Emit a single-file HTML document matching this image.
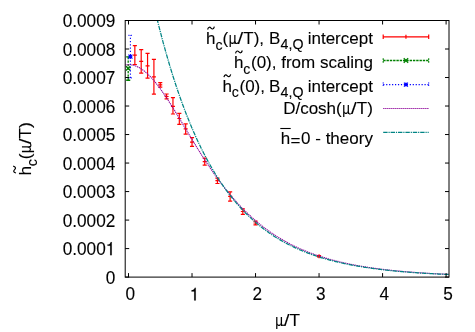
<!DOCTYPE html>
<html><head><meta charset="utf-8"><title>plot</title>
<style>html,body{margin:0;padding:0;background:#fff;}svg{display:block;will-change:transform;}</style></head>
<body>
<svg width="475" height="332" viewBox="0 0 475 332">
<rect width="475" height="332" fill="#fff"/>
<clipPath id="cp"><rect x="125.2" y="20.5" width="323.8" height="256.6"/></clipPath>
<g clip-path="url(#cp)" fill="none">
<path d="M134.85,45.7 V64.5 M132.80,45.7 H136.90 M132.80,64.5 H136.90 M132.85,55.2 H136.85 M134.85,53.2 V57.2" stroke="#ff0000" stroke-width="1.2"/>
<path d="M141.20,49.6 V73.2 M139.15,49.6 H143.25 M139.15,73.2 H143.25 M139.20,61.4 H143.20 M141.20,59.4 V63.4" stroke="#ff0000" stroke-width="1.2"/>
<path d="M147.56,53.3 V78.1 M145.51,53.3 H149.61 M145.51,78.1 H149.61 M145.56,65.8 H149.56 M147.56,63.8 V67.8" stroke="#ff0000" stroke-width="1.2"/>
<path d="M153.91,59.4 V94.05 M151.86,59.4 H155.96 M151.86,94.05 H155.96 M151.91,76.8 H155.91 M153.91,74.8 V78.8" stroke="#ff0000" stroke-width="1.2"/>
<path d="M160.26,82.7 V87.1 M158.21,82.7 H162.31 M158.21,87.1 H162.31 M158.26,84.9 H162.26 M160.26,82.9 V86.9" stroke="#ff0000" stroke-width="1.2"/>
<path d="M166.61,94.0 V98.9 M164.56,94.0 H168.66 M164.56,98.9 H168.66 M164.61,96.5 H168.61 M166.61,94.5 V98.5" stroke="#ff0000" stroke-width="1.2"/>
<path d="M172.96,97.7 V114.0 M170.91,97.7 H175.01 M170.91,114.0 H175.01 M170.96,106.4 H174.96 M172.96,104.4 V108.4" stroke="#ff0000" stroke-width="1.2"/>
<path d="M179.32,113.4 V124.4 M177.27,113.4 H181.37 M177.27,124.4 H181.37 M177.32,118.5 H181.32 M179.32,116.5 V120.5" stroke="#ff0000" stroke-width="1.2"/>
<path d="M185.67,123.85 V134.2 M183.62,123.85 H187.72 M183.62,134.2 H187.72 M183.67,128.9 H187.67 M185.67,126.9 V130.9" stroke="#ff0000" stroke-width="1.2"/>
<path d="M192.02,137.7 V146.3 M189.97,137.7 H194.07 M189.97,146.3 H194.07 M190.02,142.1 H194.02 M192.02,140.1 V144.1" stroke="#ff0000" stroke-width="1.2"/>
<path d="M204.72,158.1 V165.2 M202.67,158.1 H206.77 M202.67,165.2 H206.77 M202.72,161.7 H206.72 M204.72,159.7 V163.7" stroke="#ff0000" stroke-width="1.2"/>
<path d="M217.43,178.1 V183.5 M215.38,178.1 H219.48 M215.38,183.5 H219.48 M215.43,180.7 H219.43 M217.43,178.7 V182.7" stroke="#ff0000" stroke-width="1.2"/>
<path d="M230.13,191.8 V201.1 M228.08,191.8 H232.18 M228.08,201.1 H232.18 M228.13,196.3 H232.13 M230.13,194.3 V198.3" stroke="#ff0000" stroke-width="1.2"/>
<path d="M242.84,208.8 V214.4 M240.79,208.8 H244.89 M240.79,214.4 H244.89 M240.84,211.5 H244.84 M242.84,209.5 V213.5" stroke="#ff0000" stroke-width="1.2"/>
<path d="M255.54,221.1 V224.8 M253.49,221.1 H257.59 M253.49,224.8 H257.59 M253.54,223.0 H257.54 M255.54,221.0 V225.0" stroke="#ff0000" stroke-width="1.2"/>
<path d="M319.06,255.6 V257.0 M317.01,255.6 H321.11 M317.01,257.0 H321.11 M317.06,256.3 H321.06 M319.06,254.3 V258.3" stroke="#ff0000" stroke-width="1.2"/>
<path d="M128.2,56.9 V80.2" stroke="#008000" stroke-width="1.3" stroke-dasharray="2.4,1.1"/>
<path d="M126.14999999999999,56.9 H130.25 M126.14999999999999,80.2 H130.25 M125.99999999999999,66.2 L130.39999999999998,70.6 M125.99999999999999,70.6 L130.39999999999998,66.2" stroke="#008000" stroke-width="1.4"/>
<path d="M130.4,35.3 V77.9" stroke="#0000ff" stroke-width="1.1" stroke-dasharray="1.25,2" stroke-dashoffset="0.8"/>
<path d="M128.35,35.3 H132.45000000000002 M128.35,77.9 H132.45000000000002" stroke="#0000ff" stroke-width="1" stroke-dasharray="1.2,1.2"/>
<path d="M128.4,54.7 L132.4,58.7 M128.4,58.7 L132.4,54.7 M128.4,56.7 H132.4 M130.4,54.7 V58.7" stroke="#0000ff" stroke-width="1.1"/>
<path d="M125.32,64.96 L126.13,64.84 L126.94,64.76 L127.75,64.71 L128.56,64.69 L129.37,64.71 L130.17,64.77 L130.98,64.85 L131.79,64.98 L132.60,65.13 L133.41,65.32 L134.22,65.55 L135.02,65.81 L135.83,66.10 L136.64,66.42 L137.45,66.78 L138.26,67.17 L139.06,67.60 L139.87,68.05 L140.68,68.54 L141.49,69.06 L142.30,69.61 L143.11,70.19 L143.91,70.80 L144.72,71.44 L145.53,72.11 L146.34,72.80 L147.15,73.53 L147.96,74.28 L148.76,75.06 L149.57,75.87 L150.38,76.70 L151.19,77.56 L152.00,78.44 L152.81,79.35 L153.61,80.28 L154.42,81.23 L155.23,82.21 L156.04,83.20 L156.85,84.22 L157.66,85.26 L158.46,86.32 L159.27,87.39 L160.08,88.49 L160.89,89.60 L161.70,90.73 L162.51,91.87 L163.31,93.04 L164.12,94.21 L164.93,95.40 L165.74,96.61 L166.55,97.82 L167.36,99.05 L168.16,100.30 L168.97,101.55 L169.78,102.81 L170.59,104.08 L171.40,105.36 L172.20,106.65 L173.01,107.95 L173.82,109.26 L174.63,110.57 L175.44,111.89 L176.25,113.21 L177.05,114.54 L177.86,115.88 L178.67,117.21 L179.48,118.55 L180.29,119.90 L181.10,121.24 L181.90,122.59 L182.71,123.94 L183.52,125.29 L184.33,126.64 L185.14,128.00 L185.95,129.35 L186.75,130.70 L187.56,132.05 L188.37,133.39 L189.18,134.74 L189.99,136.08 L190.80,137.42 L191.60,138.76 L192.41,140.10 L193.22,141.43 L194.03,142.75 L194.84,144.07 L195.65,145.39 L196.45,146.70 L197.26,148.01 L198.07,149.31 L198.88,150.61 L199.69,151.90 L200.50,153.18 L201.30,154.46 L202.11,155.73 L202.92,156.99 L203.73,158.25 L204.54,159.50 L205.34,160.74 L206.15,161.98 L206.96,163.21 L207.77,164.43 L208.58,165.64 L209.39,166.84 L210.19,168.04 L211.00,169.22 L211.81,170.40 L212.62,171.57 L213.43,172.73 L214.24,173.88 L215.04,175.03 L215.85,176.16 L216.66,177.29 L217.47,178.40 L218.28,179.51 L219.09,180.61 L219.89,181.70 L220.70,182.78 L221.51,183.85 L222.32,184.91 L223.13,185.96 L223.94,187.01 L224.74,188.04 L225.55,189.06 L226.36,190.08 L227.17,191.08 L227.98,192.08 L228.79,193.07 L229.59,194.04 L230.40,195.01 L231.21,195.97 L232.02,196.92 L232.83,197.86 L233.64,198.79 L234.44,199.71 L235.25,200.63 L236.06,201.53 L236.87,202.42 L237.68,203.31 L238.48,204.18 L239.29,205.05 L240.10,205.91 L240.91,206.76 L241.72,207.60 L242.53,208.43 L243.33,209.25 L244.14,210.07 L244.95,210.87 L245.76,211.67 L246.57,212.46 L247.38,213.23 L248.18,214.01 L248.99,214.77 L249.80,215.52 L250.61,216.27 L251.42,217.01 L252.23,217.74 L253.03,218.46 L253.84,219.17 L254.65,219.87 L255.46,220.57 L256.27,221.26 L257.08,221.94 L257.88,222.62 L258.69,223.28 L259.50,223.94 L260.31,224.59 L261.12,225.24 L261.93,225.87 L262.73,226.50 L263.54,227.12 L264.35,227.74 L265.16,228.35 L265.97,228.95 L266.78,229.54 L267.58,230.13 L268.39,230.71 L269.20,231.28 L270.01,231.84 L270.82,232.40 L271.62,232.96 L272.43,233.50 L273.24,234.04 L274.05,234.58 L274.86,235.10 L275.67,235.62 L276.47,236.14 L277.28,236.65 L278.09,237.15 L278.90,237.64 L279.71,238.14 L280.52,238.62 L281.32,239.10 L282.13,239.57 L282.94,240.04 L283.75,240.50 L284.56,240.96 L285.37,241.41 L286.17,241.85 L286.98,242.29 L287.79,242.73 L288.60,243.15 L289.41,243.58 L290.22,244.00 L291.02,244.41 L291.83,244.82 L292.64,245.22 L293.45,245.62 L294.26,246.01 L295.07,246.40 L295.87,246.79 L296.68,247.17 L297.49,247.54 L298.30,247.91 L299.11,248.28 L299.92,248.64 L300.72,249.00 L301.53,249.35 L302.34,249.70 L303.15,250.04 L303.96,250.38 L304.76,250.71 L305.57,251.05 L306.38,251.37 L307.19,251.70 L308.00,252.01 L308.81,252.33 L309.61,252.64 L310.42,252.95 L311.23,253.25 L312.04,253.55 L312.85,253.85 L313.66,254.14 L314.46,254.43 L315.27,254.71 L316.08,254.99 L316.89,255.27 L317.70,255.55 L318.51,255.82 L319.31,256.09 L320.12,256.35 L320.93,256.61 L321.74,256.87 L322.55,257.12 L323.36,257.38 L324.16,257.62 L324.97,257.87 L325.78,258.11 L326.59,258.35 L327.40,258.59 L328.21,258.82 L329.01,259.05 L329.82,259.28 L330.63,259.50 L331.44,259.72 L332.25,259.94 L333.06,260.16 L333.86,260.37 L334.67,260.58 L335.48,260.79 L336.29,261.00 L337.10,261.20 L337.90,261.40 L338.71,261.60 L339.52,261.79 L340.33,261.99 L341.14,262.18 L341.95,262.37 L342.75,262.55 L343.56,262.74 L344.37,262.92 L345.18,263.10 L345.99,263.27 L346.80,263.45 L347.60,263.62 L348.41,263.79 L349.22,263.96 L350.03,264.12 L350.84,264.29 L351.65,264.45 L352.45,264.61 L353.26,264.77 L354.07,264.92 L354.88,265.08 L355.69,265.23 L356.50,265.38 L357.30,265.53 L358.11,265.67 L358.92,265.82 L359.73,265.96 L360.54,266.10 L361.35,266.24 L362.15,266.37 L362.96,266.51 L363.77,266.64 L364.58,266.78 L365.39,266.91 L366.20,267.04 L367.00,267.16 L367.81,267.29 L368.62,267.41 L369.43,267.53 L370.24,267.66 L371.04,267.77 L371.85,267.89 L372.66,268.01 L373.47,268.12 L374.28,268.24 L375.09,268.35 L375.89,268.46 L376.70,268.57 L377.51,268.68 L378.32,268.78 L379.13,268.89 L379.94,268.99 L380.74,269.09 L381.55,269.20 L382.36,269.29 L383.17,269.39 L383.98,269.49 L384.79,269.59 L385.59,269.68 L386.40,269.78 L387.21,269.87 L388.02,269.96 L388.83,270.05 L389.64,270.14 L390.44,270.23 L391.25,270.31 L392.06,270.40 L392.87,270.48 L393.68,270.57 L394.49,270.65 L395.29,270.73 L396.10,270.81 L396.91,270.89 L397.72,270.97 L398.53,271.05 L399.33,271.12 L400.14,271.20 L400.95,271.27 L401.76,271.35 L402.57,271.42 L403.38,271.49 L404.18,271.56 L404.99,271.63 L405.80,271.70 L406.61,271.77 L407.42,271.84 L408.23,271.90 L409.03,271.97 L409.84,272.04 L410.65,272.10 L411.46,272.16 L412.27,272.22 L413.08,272.29 L413.88,272.35 L414.69,272.41 L415.50,272.47 L416.31,272.53 L417.12,272.58 L417.93,272.64 L418.73,272.70 L419.54,272.75 L420.35,272.81 L421.16,272.86 L421.97,272.92 L422.78,272.97 L423.58,273.02 L424.39,273.07 L425.20,273.12 L426.01,273.17 L426.82,273.22 L427.63,273.27 L428.43,273.32 L429.24,273.37 L430.05,273.42 L430.86,273.46 L431.67,273.51 L432.47,273.55 L433.28,273.60 L434.09,273.64 L434.90,273.69 L435.71,273.73 L436.52,273.77 L437.32,273.81 L438.13,273.86 L438.94,273.90 L439.75,273.94 L440.56,273.98 L441.37,274.02 L442.17,274.06 L442.98,274.09 L443.79,274.13 L444.60,274.17 L445.41,274.21 L446.22,274.24 L447.02,274.28 L447.83,274.31 L448.64,274.35" stroke="#900a9c" stroke-width="1.1" stroke-dasharray="1.3,0.7"/>
<path d="M125.32,-148.52 L126.13,-143.13 L126.94,-137.82 L127.75,-132.57 L128.56,-127.39 L129.37,-122.28 L130.17,-117.23 L130.98,-112.24 L131.79,-107.32 L132.60,-102.46 L133.41,-97.66 L134.22,-92.92 L135.02,-88.24 L135.83,-83.62 L136.64,-79.06 L137.45,-74.56 L138.26,-70.11 L139.06,-65.72 L139.87,-61.39 L140.68,-57.11 L141.49,-52.88 L142.30,-48.71 L143.11,-44.59 L143.91,-40.52 L144.72,-36.51 L145.53,-32.54 L146.34,-28.62 L147.15,-24.76 L147.96,-20.94 L148.76,-17.17 L149.57,-13.45 L150.38,-9.78 L151.19,-6.15 L152.00,-2.57 L152.81,0.97 L153.61,4.46 L154.42,7.91 L155.23,11.31 L156.04,14.67 L156.85,17.99 L157.66,21.26 L158.46,24.50 L159.27,27.69 L160.08,30.85 L160.89,33.96 L161.70,37.03 L162.51,40.07 L163.31,43.07 L164.12,46.03 L164.93,48.95 L165.74,51.83 L166.55,54.68 L167.36,57.49 L168.16,60.27 L168.97,63.01 L169.78,65.72 L170.59,68.39 L171.40,71.03 L172.20,73.64 L173.01,76.21 L173.82,78.75 L174.63,81.26 L175.44,83.73 L176.25,86.18 L177.05,88.59 L177.86,90.98 L178.67,93.33 L179.48,95.65 L180.29,97.95 L181.10,100.21 L181.90,102.45 L182.71,104.66 L183.52,106.84 L184.33,108.99 L185.14,111.12 L185.95,113.22 L186.75,115.29 L187.56,117.33 L188.37,119.35 L189.18,121.35 L189.99,123.32 L190.80,125.26 L191.60,127.18 L192.41,129.08 L193.22,130.95 L194.03,132.80 L194.84,134.62 L195.65,136.42 L196.45,138.20 L197.26,139.96 L198.07,141.69 L198.88,143.41 L199.69,145.10 L200.50,146.76 L201.30,148.41 L202.11,150.04 L202.92,151.65 L203.73,153.23 L204.54,154.80 L205.34,156.35 L206.15,157.87 L206.96,159.38 L207.77,160.87 L208.58,162.34 L209.39,163.79 L210.19,165.22 L211.00,166.64 L211.81,168.03 L212.62,169.41 L213.43,170.77 L214.24,172.12 L215.04,173.45 L215.85,174.76 L216.66,176.05 L217.47,177.33 L218.28,178.59 L219.09,179.84 L219.89,181.07 L220.70,182.28 L221.51,183.48 L222.32,184.66 L223.13,185.83 L223.94,186.99 L224.74,188.12 L225.55,189.25 L226.36,190.36 L227.17,191.46 L227.98,192.54 L228.79,193.61 L229.59,194.66 L230.40,195.71 L231.21,196.74 L232.02,197.75 L232.83,198.76 L233.64,199.75 L234.44,200.72 L235.25,201.69 L236.06,202.64 L236.87,203.59 L237.68,204.51 L238.48,205.43 L239.29,206.34 L240.10,207.23 L240.91,208.12 L241.72,208.99 L242.53,209.85 L243.33,210.70 L244.14,211.54 L244.95,212.37 L245.76,213.19 L246.57,214.00 L247.38,214.79 L248.18,215.58 L248.99,216.36 L249.80,217.13 L250.61,217.89 L251.42,218.63 L252.23,219.37 L253.03,220.10 L253.84,220.82 L254.65,221.54 L255.46,222.24 L256.27,222.93 L257.08,223.62 L257.88,224.29 L258.69,224.96 L259.50,225.62 L260.31,226.27 L261.12,226.91 L261.93,227.55 L262.73,228.18 L263.54,228.79 L264.35,229.40 L265.16,230.01 L265.97,230.60 L266.78,231.19 L267.58,231.77 L268.39,232.34 L269.20,232.91 L270.01,233.47 L270.82,234.02 L271.62,234.57 L272.43,235.10 L273.24,235.63 L274.05,236.16 L274.86,236.68 L275.67,237.19 L276.47,237.69 L277.28,238.19 L278.09,238.68 L278.90,239.17 L279.71,239.65 L280.52,240.12 L281.32,240.59 L282.13,241.05 L282.94,241.51 L283.75,241.96 L284.56,242.40 L285.37,242.84 L286.17,243.27 L286.98,243.70 L287.79,244.12 L288.60,244.54 L289.41,244.95 L290.22,245.36 L291.02,245.76 L291.83,246.16 L292.64,246.55 L293.45,246.93 L294.26,247.31 L295.07,247.69 L295.87,248.06 L296.68,248.43 L297.49,248.79 L298.30,249.15 L299.11,249.50 L299.92,249.85 L300.72,250.20 L301.53,250.54 L302.34,250.87 L303.15,251.21 L303.96,251.53 L304.76,251.86 L305.57,252.18 L306.38,252.49 L307.19,252.80 L308.00,253.11 L308.81,253.41 L309.61,253.71 L310.42,254.01 L311.23,254.30 L312.04,254.59 L312.85,254.87 L313.66,255.15 L314.46,255.43 L315.27,255.70 L316.08,255.98 L316.89,256.24 L317.70,256.51 L318.51,256.77 L319.31,257.02 L320.12,257.28 L320.93,257.53 L321.74,257.78 L322.55,258.02 L323.36,258.26 L324.16,258.50 L324.97,258.73 L325.78,258.97 L326.59,259.20 L327.40,259.42 L328.21,259.65 L329.01,259.87 L329.82,260.08 L330.63,260.30 L331.44,260.51 L332.25,260.72 L333.06,260.93 L333.86,261.13 L334.67,261.34 L335.48,261.53 L336.29,261.73 L337.10,261.93 L337.90,262.12 L338.71,262.31 L339.52,262.49 L340.33,262.68 L341.14,262.86 L341.95,263.04 L342.75,263.22 L343.56,263.39 L344.37,263.57 L345.18,263.74 L345.99,263.91 L346.80,264.07 L347.60,264.24 L348.41,264.40 L349.22,264.56 L350.03,264.72 L350.84,264.88 L351.65,265.03 L352.45,265.18 L353.26,265.34 L354.07,265.48 L354.88,265.63 L355.69,265.78 L356.50,265.92 L357.30,266.06 L358.11,266.20 L358.92,266.34 L359.73,266.47 L360.54,266.61 L361.35,266.74 L362.15,266.87 L362.96,267.00 L363.77,267.13 L364.58,267.26 L365.39,267.38 L366.20,267.50 L367.00,267.62 L367.81,267.74 L368.62,267.86 L369.43,267.98 L370.24,268.09 L371.04,268.21 L371.85,268.32 L372.66,268.43 L373.47,268.54 L374.28,268.65 L375.09,268.76 L375.89,268.86 L376.70,268.97 L377.51,269.07 L378.32,269.17 L379.13,269.27 L379.94,269.37 L380.74,269.47 L381.55,269.56 L382.36,269.66 L383.17,269.75 L383.98,269.85 L384.79,269.94 L385.59,270.03 L386.40,270.12 L387.21,270.21 L388.02,270.29 L388.83,270.38 L389.64,270.46 L390.44,270.55 L391.25,270.63 L392.06,270.71 L392.87,270.79 L393.68,270.87 L394.49,270.95 L395.29,271.03 L396.10,271.11 L396.91,271.18 L397.72,271.26 L398.53,271.33 L399.33,271.40 L400.14,271.48 L400.95,271.55 L401.76,271.62 L402.57,271.69 L403.38,271.76 L404.18,271.82 L404.99,271.89 L405.80,271.96 L406.61,272.02 L407.42,272.08 L408.23,272.15 L409.03,272.21 L409.84,272.27 L410.65,272.33 L411.46,272.39 L412.27,272.45 L413.08,272.51 L413.88,272.57 L414.69,272.63 L415.50,272.68 L416.31,272.74 L417.12,272.79 L417.93,272.85 L418.73,272.90 L419.54,272.96 L420.35,273.01 L421.16,273.06 L421.97,273.11 L422.78,273.16 L423.58,273.21 L424.39,273.26 L425.20,273.31 L426.01,273.36 L426.82,273.40 L427.63,273.45 L428.43,273.50 L429.24,273.54 L430.05,273.59 L430.86,273.63 L431.67,273.68 L432.47,273.72 L433.28,273.76 L434.09,273.80 L434.90,273.85 L435.71,273.89 L436.52,273.93 L437.32,273.97 L438.13,274.01 L438.94,274.05 L439.75,274.09 L440.56,274.12 L441.37,274.16 L442.17,274.20 L442.98,274.23 L443.79,274.27 L444.60,274.31 L445.41,274.34 L446.22,274.38 L447.02,274.41 L447.83,274.45 L448.64,274.48" stroke="#008484" stroke-width="1.25" stroke-dasharray="4.4,0.9,1.2,0.9"/>
</g>
<rect x="125.2" y="20.5" width="323.8" height="256.6" fill="none" stroke="#000" stroke-width="1"/>
<path d="M128.50,277.1 v-4 M128.50,20.5 v4 M192.02,277.1 v-4 M192.02,20.5 v4 M255.54,277.1 v-4 M255.54,20.5 v4 M319.06,277.1 v-4 M319.06,20.5 v4 M382.58,277.1 v-4 M382.58,20.5 v4 M446.10,277.1 v-4 M446.10,20.5 v4 M125.2,277.10 h4 M449.0,277.10 h-4 M125.2,248.59 h4 M449.0,248.59 h-4 M125.2,220.08 h4 M449.0,220.08 h-4 M125.2,191.57 h4 M449.0,191.57 h-4 M125.2,163.06 h4 M449.0,163.06 h-4 M125.2,134.54 h4 M449.0,134.54 h-4 M125.2,106.03 h4 M449.0,106.03 h-4 M125.2,77.52 h4 M449.0,77.52 h-4 M125.2,49.01 h4 M449.0,49.01 h-4 M125.2,20.50 h4 M449.0,20.50 h-4" stroke="#000" stroke-width="1" fill="none"/>
<g font-family="Liberation Sans, sans-serif" font-size="17.2" fill="#000" stroke="#000" stroke-width="0.1">
<text transform="translate(115.3,283.65) scale(1,1.08)" text-anchor="end">0</text>
<text transform="translate(105.74,255.14) scale(1,1.08)" text-anchor="end">0.000</text>
<path transform="translate(105.74,255.14) scale(0.01720,-0.01858)" d="M259,0 L259,505 L101,505 L101,569 C210,572 270,620 293,709 L349,709 L349,0 Z" fill="#000" stroke="#000" stroke-width="5.8"/>
<text transform="translate(115.3,226.63) scale(1,1.08)" text-anchor="end">0.0002</text>
<text transform="translate(115.3,198.12) scale(1,1.08)" text-anchor="end">0.0003</text>
<text transform="translate(115.3,169.61) scale(1,1.08)" text-anchor="end">0.0004</text>
<text transform="translate(115.3,141.09) scale(1,1.08)" text-anchor="end">0.0005</text>
<text transform="translate(115.3,112.58) scale(1,1.08)" text-anchor="end">0.0006</text>
<text transform="translate(115.3,84.07) scale(1,1.08)" text-anchor="end">0.0007</text>
<text transform="translate(115.3,55.56) scale(1,1.08)" text-anchor="end">0.0008</text>
<text transform="translate(115.3,27.05) scale(1,1.08)" text-anchor="end">0.0009</text>
<text transform="translate(130.30,300.4) scale(1,1.03)" text-anchor="middle">0</text>
<path transform="translate(189.75,300.40) scale(0.01720,-0.01772)" d="M259,0 L259,505 L101,505 L101,569 C210,572 270,620 293,709 L349,709 L349,0 Z" fill="#000" stroke="#000" stroke-width="5.8"/>
<text transform="translate(257.34,300.4) scale(1,1.03)" text-anchor="middle">2</text>
<text transform="translate(320.86,300.4) scale(1,1.03)" text-anchor="middle">3</text>
<text transform="translate(384.38,300.4) scale(1,1.03)" text-anchor="middle">4</text>
<text transform="translate(447.90,300.4) scale(1,1.03)" text-anchor="middle">5</text>
<text transform="translate(275.20,325.70) scale(0.786,1)">μ</text><path d="M281.40,323.50 C281.50,325.50 282.80,325.80 284.60,324.70" fill="none" stroke="#000" stroke-width="1.1"/><text transform="translate(284.00,325.70) scale(1.14,1)">/</text><text x="289.40" y="325.70">T</text>
<g transform="translate(31.3,175.6) rotate(-90)"><text x="0.00" y="0.00">h</text><text x="9.30" y="5.90" font-size="14.2">c</text><path d="M2.60,-15.30 C3.50,-18.40 5.00,-17.80 6.00,-16.70 C7.00,-15.60 8.50,-15.00 9.40,-18.10" fill="none" stroke="#000" stroke-width="1.2"/><text x="16.40" y="0.00">(</text><text transform="translate(22.70,0.00) scale(0.786,1)">μ</text><path d="M28.90,-2.20 C29.00,-0.20 30.30,0.10 32.10,-1.00" fill="none" stroke="#000" stroke-width="1.1"/><text transform="translate(31.30,0.00) scale(1.2,1)">/</text><text x="37.10" y="0.00">T)</text></g>
</g>
<g font-family="Liberation Sans, sans-serif" font-size="17.0" fill="#000" stroke="#000" stroke-width="0.1">
<text x="206.10" y="43.80">h</text><text x="215.40" y="49.70" font-size="14.2">c</text><path d="M207.60,29.50 C208.50,26.40 210.00,27.00 211.00,28.10 C212.00,29.20 213.50,29.80 214.40,26.70" fill="none" stroke="#000" stroke-width="1.2"/><text x="222.50" y="43.80">(</text><text transform="translate(228.80,43.80) scale(0.786,1)">μ</text><path d="M235.00,41.60 C235.10,43.60 236.40,43.90 238.20,42.80" fill="none" stroke="#000" stroke-width="1.1"/><text transform="translate(237.40,43.80) scale(1.2,1)">/</text><text x="243.30" y="43.80">T),</text><text x="269.00" y="43.80">B</text><text x="280.60" y="49.00" font-size="14.2">4,Q</text><text x="372.90" y="43.80" text-anchor="end">intercept</text>
<text x="234.00" y="67.60">h</text><text x="243.30" y="73.50" font-size="14.2">c</text><path d="M235.50,53.30 C236.40,50.20 237.90,50.80 238.90,51.90 C239.90,53.00 241.40,53.60 242.30,50.50" fill="none" stroke="#000" stroke-width="1.2"/><text x="251.00" y="67.60">(0), from scaling</text>
<text x="222.40" y="91.50">h</text><text x="231.70" y="97.40" font-size="14.2">c</text><path d="M223.90,77.20 C224.80,74.10 226.30,74.70 227.30,75.80 C228.30,76.90 229.80,77.50 230.70,74.40" fill="none" stroke="#000" stroke-width="1.2"/><text x="239.50" y="91.50">(0),</text><text x="269.00" y="91.50">B</text><text x="280.60" y="96.70" font-size="14.2">4,Q</text><text x="372.90" y="91.50" text-anchor="end">intercept</text>
<text x="283.15" y="114.40">D/cosh(</text><text transform="translate(342.35,114.40) scale(0.786,1)">μ</text><path d="M348.55,112.20 C348.65,114.20 349.95,114.50 351.75,113.40" fill="none" stroke="#000" stroke-width="1.1"/><text transform="translate(350.95,114.40) scale(1.2,1)">/</text><text x="372.90" y="114.40" text-anchor="end">T)</text>
<text x="280.70" y="144.40">h</text><text x="290.60" y="145.80">=</text><text x="372.90" y="144.40" text-anchor="end">0 - theory</text>
</g>
<path d="M280.3,128.5 H290.7" stroke="#000" stroke-width="1.1"/>
<path d="M383.2,36.8 H428.7 M383.2,34.6 v4.4 M428.7,34.6 v4.4 M405.95,34.8 v4 M403.95,36.8 h4" stroke="#ff0000" stroke-width="1.2" fill="none"/>
<path d="M383.2,60.5 H428.7" stroke="#008000" stroke-width="1.35" stroke-dasharray="2.4,0.9"/>
<path d="M383.2,58.3 v4.4 M428.7,58.3 v4.4" stroke="#008000" stroke-width="1.1" stroke-dasharray="1.7,1" fill="none"/>
<path d="M403.75,58.3 l4.4,4.4 M403.75,62.7 l4.4,-4.4" stroke="#008000" stroke-width="1.3" fill="none"/>
<path d="M383.2,84.6 H428.7" stroke="#0000ff" stroke-width="1.1" stroke-dasharray="1.2,1.75"/>
<path d="M383.2,82.4 v4.4 M428.7,82.4 v4.4" stroke="#0000ff" stroke-width="1" stroke-dasharray="1.2,1.2"/>
<path d="M403.95,82.6 l4,4 M403.95,86.6 l4,-4 M403.95,84.6 h4 M405.95,82.6 v4" stroke="#0000ff" stroke-width="1.1" fill="none"/>
<path d="M383.2,108.5 H428.7" stroke="#900a9c" stroke-width="1.1" stroke-dasharray="1.3,0.7"/>
<path d="M383.2,132.4 H428.7" stroke="#008484" stroke-width="1.25" stroke-dasharray="4.4,0.9,1.2,0.9"/>
</svg>
</body></html>
